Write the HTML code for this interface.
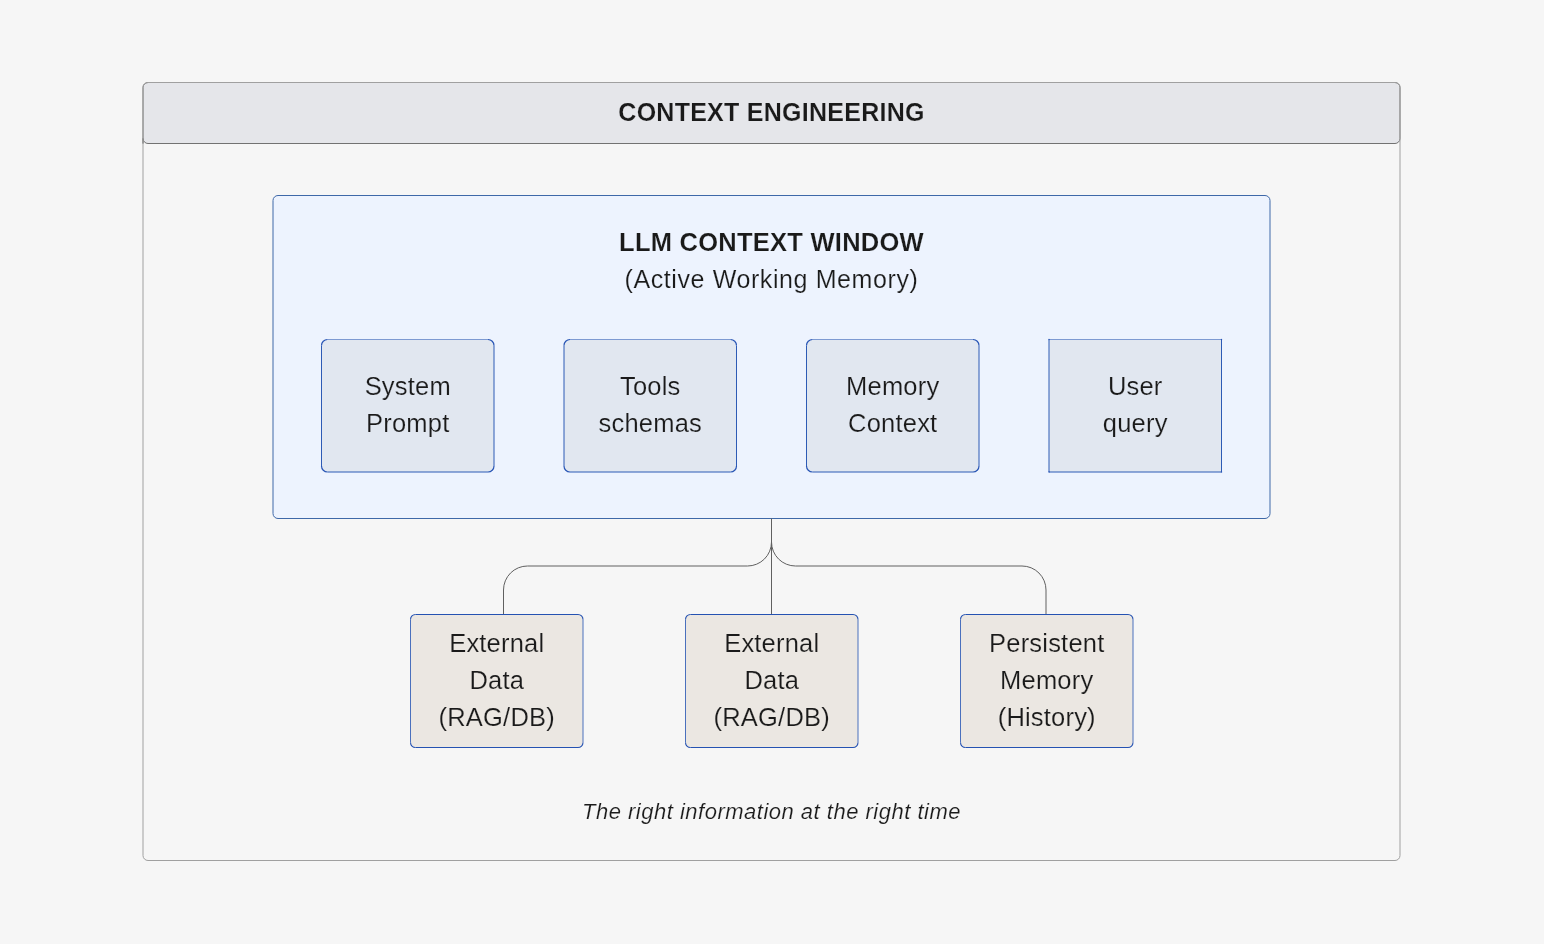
<!DOCTYPE html>
<html>
<head>
<meta charset="utf-8">
<style>
html,body{margin:0;padding:0;background:#f6f6f6;}
body{width:1544px;height:944px;overflow:hidden;}
svg{display:block;will-change:transform;}
text{font-family:"Liberation Sans", sans-serif;fill:#1a1a1a;stroke-width:0.16px;}
.sb{stroke:#e1e7f0;}
.sr{stroke:#ebe7e2;}
.b{font-weight:bold;}
.n{font-size:25.5px;letter-spacing:0.2px;}
</style>
</head>
<body>
<svg width="1544" height="944" viewBox="0 0 1544 944">
<rect x="0" y="0" width="1544" height="944" fill="#f6f6f6"/>
<path d="M143 143.5 V87.5 A5 5 0 0 1 148 82.5 H1395 A5 5 0 0 1 1400 87.5 V138.5 A5 5 0 0 1 1395 143.5 H148 A5 5 0 0 1 143 138.5 Z" fill="#e5e6ea" stroke="#727272" stroke-width="1"/>
<rect x="143" y="82.5" width="1257" height="778" rx="5" ry="5" fill="none" stroke="#a0a0a0" stroke-width="1"/>
<text class="b" stroke="#e5e6ea" x="771.5" y="120.6" text-anchor="middle" font-size="25" letter-spacing="0.26">CONTEXT ENGINEERING</text>
<rect x="273" y="195.5" width="997" height="323" rx="5" ry="5" fill="#edf3fe" stroke="#3e68a8" stroke-width="1"/>
<text class="b" stroke="#edf3fe" x="771.5" y="250.8" text-anchor="middle" font-size="25.5" letter-spacing="0.25">LLM CONTEXT WINDOW</text>
<text stroke="#edf3fe" x="771.5" y="287.6" text-anchor="middle" font-size="25" letter-spacing="0.6">(Active Working Memory)</text>
<g fill="none"><path d="M321.5 345.5 A6 6 0 0 1 327.5 339.5 H488.0 A6 6 0 0 1 494.0 345.5 V466.0 A6 6 0 0 1 488.0 472.0 H327.5 A6 6 0 0 1 321.5 466.0 Z" fill="#e1e7f0"/><path d="M327.5 339.5 H488.0" stroke="#7d9ad2" stroke-width="1.0"/><path d="M327.5 472.0 H488.0" stroke="#2d5bb5" stroke-width="1.0"/><path d="M321.5 345.5 V466.0" stroke="#2d5bb5" stroke-width="1.0"/><path d="M494.0 345.5 V466.0" stroke="#2d5bb5" stroke-width="1.0"/><path d="M321.5 345.5 A6 6 0 0 1 327.5 339.5 M488.0 339.5 A6 6 0 0 1 494.0 345.5 M494.0 466.0 A6 6 0 0 1 488.0 472.0 M327.5 472.0 A6 6 0 0 1 321.5 466.0" stroke="#2855b5" stroke-width="1.2"/></g>
<g fill="none"><path d="M564 345.5 A6 6 0 0 1 570 339.5 H730.5 A6 6 0 0 1 736.5 345.5 V466.0 A6 6 0 0 1 730.5 472.0 H570 A6 6 0 0 1 564 466.0 Z" fill="#e1e7f0"/><path d="M570 339.5 H730.5" stroke="#7d9ad2" stroke-width="1.0"/><path d="M570 472.0 H730.5" stroke="#2d5bb5" stroke-width="1.0"/><path d="M564 345.5 V466.0" stroke="#2d5bb5" stroke-width="1.0"/><path d="M736.5 345.5 V466.0" stroke="#2d5bb5" stroke-width="1.0"/><path d="M564 345.5 A6 6 0 0 1 570 339.5 M730.5 339.5 A6 6 0 0 1 736.5 345.5 M736.5 466.0 A6 6 0 0 1 730.5 472.0 M570 472.0 A6 6 0 0 1 564 466.0" stroke="#2855b5" stroke-width="1.2"/></g>
<g fill="none"><path d="M806.5 345.5 A6 6 0 0 1 812.5 339.5 H973.0 A6 6 0 0 1 979.0 345.5 V466.0 A6 6 0 0 1 973.0 472.0 H812.5 A6 6 0 0 1 806.5 466.0 Z" fill="#e1e7f0"/><path d="M812.5 339.5 H973.0" stroke="#7d9ad2" stroke-width="1.0"/><path d="M812.5 472.0 H973.0" stroke="#2d5bb5" stroke-width="1.0"/><path d="M806.5 345.5 V466.0" stroke="#2d5bb5" stroke-width="1.0"/><path d="M979.0 345.5 V466.0" stroke="#2d5bb5" stroke-width="1.0"/><path d="M806.5 345.5 A6 6 0 0 1 812.5 339.5 M973.0 339.5 A6 6 0 0 1 979.0 345.5 M979.0 466.0 A6 6 0 0 1 973.0 472.0 M812.5 472.0 A6 6 0 0 1 806.5 466.0" stroke="#2855b5" stroke-width="1.2"/></g>
<g fill="none"><rect x="1049" y="339.5" width="172.5" height="132.5" fill="#e1e7f0"/><path d="M1049 339.5 H1221.5" stroke="#7d9ad2" stroke-width="1.0"/><path d="M1049 472.0 H1221.5" stroke="#2d5bb5" stroke-width="1.0"/><path d="M1049 339.5 V472.0" stroke="#2d5bb5" stroke-width="1.0"/><path d="M1221.5 339.5 V472.0" stroke="#2d5bb5" stroke-width="1.0"/><rect x="1048.4" y="338.9" width="1.2" height="1.2" fill="#2855b5"/><rect x="1220.9" y="338.9" width="1.2" height="1.2" fill="#2855b5"/><rect x="1220.9" y="471.4" width="1.2" height="1.2" fill="#2855b5"/><rect x="1048.4" y="471.4" width="1.2" height="1.2" fill="#2855b5"/></g>
<text class="n sb" x="407.75" y="395.1" text-anchor="middle">System</text>
<text class="n sb" x="407.75" y="431.9" text-anchor="middle">Prompt</text>
<text class="n sb" x="650.25" y="395.1" text-anchor="middle">Tools</text>
<text class="n sb" x="650.25" y="431.9" text-anchor="middle">schemas</text>
<text class="n sb" x="892.75" y="395.1" text-anchor="middle">Memory</text>
<text class="n sb" x="892.75" y="431.9" text-anchor="middle">Context</text>
<text class="n sb" x="1135.25" y="395.1" text-anchor="middle">User</text>
<text class="n sb" x="1135.25" y="431.9" text-anchor="middle">query</text>
<g fill="none" stroke="#606060" stroke-width="1"><path d="M771.5 518.5 V614.5"/><path d="M771.5 542 A24 24 0 0 1 747.5 566 H527.5 A24 24 0 0 0 503.5 590 V614.5"/><path d="M771.5 542 A24 24 0 0 0 795.5 566 H1022 A24 24 0 0 1 1046 590 V614.5"/></g>
<g fill="none"><path d="M410.5 619.5 A5 5 0 0 1 415.5 614.5 H578.0 A5 5 0 0 1 583.0 619.5 V742.5 A5 5 0 0 1 578.0 747.5 H415.5 A5 5 0 0 1 410.5 742.5 Z" fill="#ebe7e2"/><path d="M415.5 614.5 H578.0" stroke="#2552b2" stroke-width="1.0"/><path d="M415.5 747.5 H578.0" stroke="#2552b2" stroke-width="1.0"/><path d="M410.5 619.5 V742.5" stroke="#4a70bd" stroke-width="1.0"/><path d="M583.0 619.5 V742.5" stroke="#4a70bd" stroke-width="1.0"/><path d="M410.5 619.5 A5 5 0 0 1 415.5 614.5 M578.0 614.5 A5 5 0 0 1 583.0 619.5 M583.0 742.5 A5 5 0 0 1 578.0 747.5 M415.5 747.5 A5 5 0 0 1 410.5 742.5" stroke="#2552b2" stroke-width="1.1"/></g>
<g fill="none"><path d="M685.5 619.5 A5 5 0 0 1 690.5 614.5 H853.0 A5 5 0 0 1 858.0 619.5 V742.5 A5 5 0 0 1 853.0 747.5 H690.5 A5 5 0 0 1 685.5 742.5 Z" fill="#ebe7e2"/><path d="M690.5 614.5 H853.0" stroke="#2552b2" stroke-width="1.0"/><path d="M690.5 747.5 H853.0" stroke="#2552b2" stroke-width="1.0"/><path d="M685.5 619.5 V742.5" stroke="#4a70bd" stroke-width="1.0"/><path d="M858.0 619.5 V742.5" stroke="#4a70bd" stroke-width="1.0"/><path d="M685.5 619.5 A5 5 0 0 1 690.5 614.5 M853.0 614.5 A5 5 0 0 1 858.0 619.5 M858.0 742.5 A5 5 0 0 1 853.0 747.5 M690.5 747.5 A5 5 0 0 1 685.5 742.5" stroke="#2552b2" stroke-width="1.1"/></g>
<g fill="none"><path d="M960.5 619.5 A5 5 0 0 1 965.5 614.5 H1128.0 A5 5 0 0 1 1133.0 619.5 V742.5 A5 5 0 0 1 1128.0 747.5 H965.5 A5 5 0 0 1 960.5 742.5 Z" fill="#ebe7e2"/><path d="M965.5 614.5 H1128.0" stroke="#2552b2" stroke-width="1.0"/><path d="M965.5 747.5 H1128.0" stroke="#2552b2" stroke-width="1.0"/><path d="M960.5 619.5 V742.5" stroke="#4a70bd" stroke-width="1.0"/><path d="M1133.0 619.5 V742.5" stroke="#4a70bd" stroke-width="1.0"/><path d="M960.5 619.5 A5 5 0 0 1 965.5 614.5 M1128.0 614.5 A5 5 0 0 1 1133.0 619.5 M1133.0 742.5 A5 5 0 0 1 1128.0 747.5 M965.5 747.5 A5 5 0 0 1 960.5 742.5" stroke="#2552b2" stroke-width="1.1"/></g>
<text class="n sr" x="496.75" y="652" text-anchor="middle">External</text>
<text class="n sr" x="496.75" y="689" text-anchor="middle">Data</text>
<text class="n sr" x="496.75" y="725.8" text-anchor="middle">(RAG/DB)</text>
<text class="n sr" x="771.75" y="652" text-anchor="middle">External</text>
<text class="n sr" x="771.75" y="689" text-anchor="middle">Data</text>
<text class="n sr" x="771.75" y="725.8" text-anchor="middle">(RAG/DB)</text>
<text class="n sr" x="1046.75" y="652" text-anchor="middle">Persistent</text>
<text class="n sr" x="1046.75" y="689" text-anchor="middle">Memory</text>
<text class="n sr" x="1046.75" y="725.8" text-anchor="middle">(History)</text>
<text x="771.5" y="818.6" text-anchor="middle" font-size="22" font-style="italic" stroke="#f6f6f6" letter-spacing="0.5">The right information at the right time</text>
</svg>
</body>
</html>
